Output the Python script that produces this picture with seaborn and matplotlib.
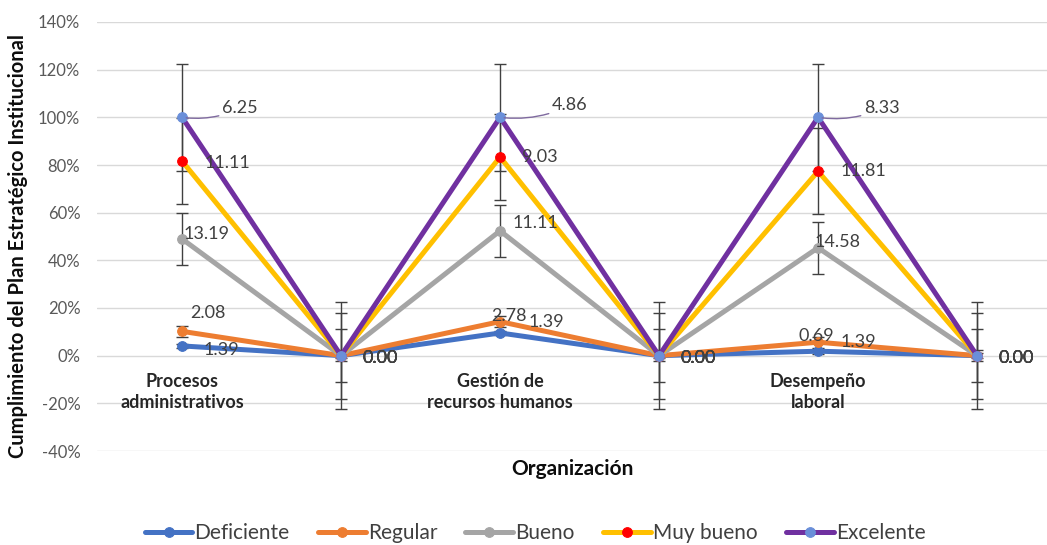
import numpy as np
import pandas as pd
import seaborn as sns
from matplotlib import pyplot as plt

sns.set_theme(style="white")
plt.rcParams["font.family"] = ["Lato", "DejaVu Sans"]

# categorias del eje (las posiciones vacias no llevan etiqueta)
categorias = ["Procesos\nadministrativos", "", "Gestión de\nrecursos humanos", "",
              "Desempeño\nlaboral", ""]
series = ["Deficiente", "Regular", "Bueno", "Muy bueno", "Excelente"]

# valores de cada nivel (etiquetas de datos del grafico)
deficiente = [1.39, 0.00, 2.78, 0.00, 0.69, 0.00]
regular = [2.08, 0.00, 1.39, 0.00, 1.39, 0.00]
bueno = [13.19, 0.00, 11.11, 0.00, 14.58, 0.00]
muy_bueno = [11.11, 0.00, 9.03, 0.00, 11.81, 0.00]
excelente = [6.25, 0.00, 4.86, 0.00, 8.33, 0.00]

# barras de error (en puntos porcentuales, fijas por serie)
errores = [1.0, 2.3, 11.0, 18.0, 22.4]

colores_linea = ["#4472C4", "#ED7D31", "#A5A5A5", "#FFC000", "#7030A0"]
colores_marca = ["#4472C4", "#ED7D31", "#A5A5A5", "#FF0000", "#6A8FD9"]

valores = np.array([deficiente, regular, bueno, muy_bueno, excelente])
total = valores.sum(axis=0)
acumulado = np.where(total > 0, valores.cumsum(axis=0) / np.where(total > 0, total, 1) * 100, 0)

pos = np.arange(len(categorias))
df = pd.DataFrame({"pos": np.tile(pos, len(series)),
                   "pct": acumulado.ravel(),
                   "valor": valores.ravel(),
                   "serie": np.repeat(series, len(categorias))})

# desplazamiento de las etiquetas (pixeles) segun serie y categoria
desp = {
    0: [(21, -4), (21, -2), (-9, 17), (21, -2), (-20, 15), (21, -2)],
    1: [(8, 18), (21, -2), (28, 0), (21, -2), (22, 0), (21, -2)],
    2: [(1, 5), (21, -2), (12, 8), (21, -2), (-4, 6), (21, -2)],
    3: [(22, -2), (21, -2), (22, 0), (21, -2), (22, 0), (21, -2)],
    4: [(40, 9), (21, -2), (52, 12), (21, -2), (46, 9), (21, -2)],
}

fig = plt.figure(figsize=(10.47, 5.45), dpi=100)
ax = fig.add_axes([97 / 1047, 1 - 451 / 545, 950 / 1047, (451 - 22) / 545])

for i, s in enumerate(series):
    d = df[df["serie"] == s]
    ax.errorbar(d["pos"], d["pct"], yerr=errores[i], fmt="none", ecolor="#404040",
                elinewidth=1, capsize=4.5, capthick=1, zorder=2 + i * 0.1)
    sns.lineplot(data=d, x="pos", y="pct", ax=ax, color=colores_linea[i], lw=3.6,
                 marker="o", markersize=7, markerfacecolor=colores_marca[i],
                 markeredgecolor=colores_marca[i], label=s, zorder=3 + i)
    for j, (x, y, v) in enumerate(zip(d["pos"], d["pct"], d["valor"])):
        dx, dy = desp[i][j]
        arrow = None
        if i == 4 and total[j] > 0:
            arrow = dict(arrowstyle="-", color="#7F6A9F", lw=1,
                         connectionstyle="arc3,rad=-0.15", shrinkA=0, shrinkB=3)
        ax.annotate(f"{v:.2f}", (x, y), xytext=(dx, dy), textcoords="offset pixels",
                    ha="left", va="center", fontsize=13, color="#404040",
                    arrowprops=arrow, zorder=10)

for x, c in zip(pos, categorias):
    ax.annotate(c, (x, 0), xytext=(0, -17), textcoords="offset pixels", ha="center",
                va="top", fontsize=13, fontweight="bold", color="#262626",
                linespacing=1.3)

ax.set_xlim(-0.535, 5.44)
ax.set_ylim(-40, 140)
ax.set_yticks(np.arange(-40, 141, 20))
ax.set_yticklabels([f"{t}%" for t in range(-40, 141, 20)], color="#595959", fontsize=12)
ax.set_xticks([])
ax.grid(axis="y", color="#D9D9D9", lw=1)
ax.tick_params(axis="y", length=0, pad=12)
for sp in ax.spines.values():
    sp.set_visible(False)

ax.set_xlabel("Organización", fontsize=15, fontweight="bold", color="#0D0D0D", labelpad=6)
ax.set_ylabel("Cumplimiento del Plan Estratégico Institucional", fontsize=14.5,
              fontweight="bold", color="#0D0D0D")
ax.yaxis.set_label_coords(-0.073, 0.478)

ax.legend(loc="center", bbox_to_anchor=(0.461, -0.191), ncol=5, frameon=False,
          fontsize=15, handlelength=2.3, handletextpad=0.1, columnspacing=1.35,
          labelcolor="#404040")

fig.savefig("out.png", dpi=100)
